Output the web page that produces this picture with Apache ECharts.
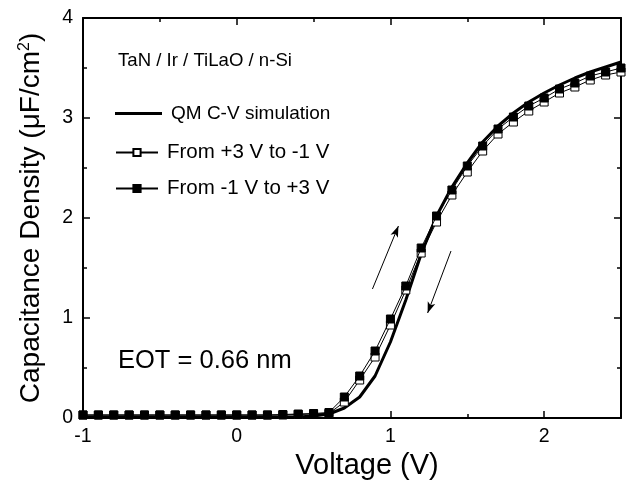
<!DOCTYPE html>
<html>
<head>
<meta charset="utf-8">
<script src="https://cdn.jsdelivr.net/npm/echarts@6/dist/echarts.min.js"></script>
<style>html,body{margin:0;padding:0;background:#fff}#c{width:627px;height:480px}</style>
</head>
<body>
<div id="c"></div>
<script>
var voltages = [-1.0,-0.9,-0.8,-0.7,-0.6,-0.5,-0.4,-0.3,-0.2,-0.1,0.0,0.1,0.2,0.3,0.4,0.5,0.6,0.7,0.8,0.9,1.0,1.1,1.2,1.3,1.4,1.5,1.6,1.7,1.8,1.9,2.0,2.1,2.2,2.3,2.4,2.5];
var simValues = [0.01,0.01,0.01,0.01,0.01,0.01,0.01,0.01,0.01,0.01,0.01,0.01,0.01,0.01,0.01,0.02,0.04,0.10,0.21,0.42,0.76,1.18,1.64,2.02,2.31,2.55,2.76,2.92,3.05,3.16,3.25,3.33,3.40,3.46,3.51,3.56];
var downValues = [0.03,0.03,0.03,0.03,0.03,0.03,0.03,0.03,0.03,0.03,0.03,0.03,0.03,0.03,0.035,0.04,0.045,0.16,0.38,0.61,0.93,1.28,1.65,1.96,2.23,2.46,2.67,2.84,2.96,3.07,3.16,3.25,3.31,3.38,3.43,3.46];
var upValues = [0.03,0.03,0.03,0.03,0.03,0.03,0.03,0.03,0.03,0.03,0.03,0.03,0.03,0.035,0.04,0.045,0.055,0.21,0.42,0.67,0.99,1.32,1.70,2.02,2.28,2.52,2.72,2.89,3.01,3.12,3.20,3.29,3.35,3.42,3.46,3.50];
var seriesNames = ['QM C-V simulation','From +3 V to -1 V','From -1 V to +3 V'];
var xTickLabels = ['-1','0','1','2'];
var arrowUp = [[0.883,1.29],[1.052,1.92]];
var arrowDown = [[1.394,1.67],[1.242,1.05]];
var noteTexts = ['TaN / Ir / TiLaO / n-Si','EOT = 0.66 nm'];

function pairs(v){ return voltages.map(function(x,i){ return [x, v[i]]; }); }

var FONT = 'Liberation Sans, Arial, sans-serif';
var chart = echarts.init(document.getElementById('c'), null, {renderer:'canvas'});

function xAx(pos, interval, tickLen, showLine, showLabel){
  return {
    type:'value', min:-1, max:2.5, interval:interval, position:pos,
    axisLine:{show:showLine, onZero:false, lineStyle:{color:'#000', width:2}},
    axisTick:{show:true, inside:true, length:tickLen, lineStyle:{color:'#000', width:1.5}},
    axisLabel:{show:showLabel, showMaxLabel:false, margin:9, color:'#000', fontSize:19.5, fontFamily:FONT,
      formatter:function(v){ var s = String(v); return xTickLabels.indexOf(s) >= 0 ? s : ''; }},
    splitLine:{show:false}
  };
}
function yAx(pos, interval, tickLen, showLine, showLabel){
  return {
    type:'value', min:0, max:4, interval:interval, position:pos,
    axisLine:{show:showLine, onZero:false, lineStyle:{color:'#000', width:2}},
    axisTick:{show:true, inside:true, length:tickLen, lineStyle:{color:'#000', width:1.5}},
    axisLabel:{show:showLabel, margin:10, color:'#000', fontSize:19.5, fontFamily:FONT},
    splitLine:{show:false}
  };
}

var xA = [xAx('bottom',1,7,true,true), xAx('bottom',0.5,4,false,false), xAx('top',1,7,true,false), xAx('top',0.5,4,false,false)];
xA[0].name = 'Voltage (V)';
xA[0].nameLocation = 'middle';
xA[0].nameGap = 26;
xA[0].nameTextStyle = {fontSize:29, color:'#000', fontFamily:FONT, padding:[0,0,0,30]};

var yA = [yAx('left',1,7,true,true), yAx('left',0.5,4,false,false), yAx('right',1,7,true,false), yAx('right',0.5,4,false,false)];
yA[0].name = 'Capacitance Density (\u03bcF/cm{sup|2})';
yA[0].nameLocation = 'middle';
yA[0].nameGap = 38;
yA[0].nameTextStyle = {fontSize:28, color:'#000', fontFamily:FONT,
  rich:{sup:{fontSize:16, verticalAlign:'top', padding:[0,0,12,0], color:'#000', fontFamily:FONT}}};

var legendBase = function(name, top, w, h, fs, icon){
  var l = {data:[icon ? {name:name, icon:icon} : name], left:115, top:top, orient:'vertical', padding:0, itemWidth:w, itemHeight:h,
    textStyle:{fontSize:fs, color:'#000', fontFamily:FONT, padding:[0,0,0,4]}, selectedMode:false};
  return l;
};

var option = {
  animation:false,
  backgroundColor:'#fff',
  grid:{left:83, right:6, top:18, bottom:62, containLabel:false, outerBoundsMode:'none'},
  xAxis:xA,
  yAxis:yA,
  title:[
    {text:noteTexts[0], left:118, top:51, padding:0, textStyle:{fontSize:18.6, fontWeight:'normal', color:'#000', fontFamily:FONT}},
    {text:noteTexts[1], left:118, top:348, padding:0, textStyle:{fontSize:25.5, fontWeight:'normal', color:'#000', fontFamily:FONT}}
  ],
  legend:[
    legendBase(seriesNames[0], 104, 47, 3, 19, 'rect'),
    legendBase(seriesNames[1], 142, 42, 9, 20.5),
    legendBase(seriesNames[2], 178, 42, 9, 20.5)
  ],
  series:[
    {name:seriesNames[0], type:'line', data:pairs(simValues), symbol:'none', lineStyle:{color:'#000', width:3}, itemStyle:{color:'#000'}, z:2},
    {name:seriesNames[1], type:'line', data:pairs(downValues), symbol:'rect', symbolSize:8,
      lineStyle:{color:'#000', width:1}, itemStyle:{color:'#fff', borderColor:'#000', borderWidth:1}, z:3},
    {name:seriesNames[2], type:'line', data:pairs(upValues), symbol:'rect', symbolSize:8,
      lineStyle:{color:'#000', width:1}, itemStyle:{color:'#000', borderColor:'#000', borderWidth:1}, z:4,
      markLine:{silent:true, symbol:['none','arrow'], symbolSize:[6,11], label:{show:false},
        lineStyle:{color:'#000', width:1, type:'solid'},
        data:[
          [{coord:arrowUp[0]},{coord:arrowUp[1]}],
          [{coord:arrowDown[0]},{coord:arrowDown[1]}]
        ]}}
  ]
};
chart.setOption(option);
</script>
</body>
</html>
